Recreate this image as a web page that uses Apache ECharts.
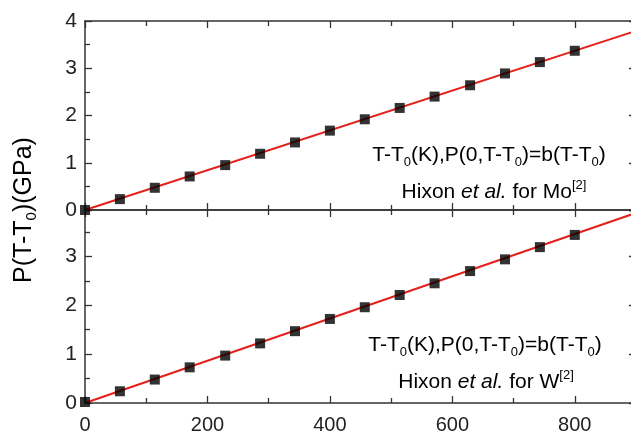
<!DOCTYPE html>
<html><head><meta charset="utf-8">
<script src="https://cdn.jsdelivr.net/npm/echarts@6/dist/echarts.min.js"></script>
<style>html,body{margin:0;padding:0;background:#fff}#c{width:631px;height:436px}</style>
</head><body><div id="c"></div>
<script>
// Temperature differences T-T0 (K)
var tempDiff = [0, 57, 114, 171, 229, 286, 343, 400, 457, 514, 571, 629, 686, 743, 800];
// Pressure P(T-T0) (GPa), Mo (top panel)
var pMo = [0, 0.23, 0.47, 0.71, 0.95, 1.19, 1.43, 1.68, 1.92, 2.16, 2.40, 2.64, 2.89, 3.13, 3.37];
// Pressure P(T-T0) (GPa), W (bottom panel)
var pW = [0.02, 0.24, 0.48, 0.73, 0.97, 1.22, 1.47, 1.72, 1.96, 2.21, 2.45, 2.70, 2.94, 3.19, 3.44];
// Linear fit lines (end points)
var fitX = [0, 900];
var fitMo = [0, 3.79];
var fitW = [0, 3.89];
// Tick labels
var xTickLabels = [0, 200, 400, 600, 800];
var yTickLabels = [0, 1, 2, 3, 4];

var FONT = 'Liberation Sans, Arial, sans-serif';
var AX = '#333';
function pairs(xs, ys){ return xs.map(function(x,i){ return [x, ys[i]]; }); }

function xAx(gi, pos, showLabel){
  return {
    type:'value', gridIndex:gi, position:pos, min:0, max:900, interval:200,
    axisLine:{show:true, onZero:false, lineStyle:{color:AX, width:1.5}},
    axisTick:{show:true, inside:true, length:7, lineStyle:{color:AX, width:1.3}},
    minorTick:{show:true, splitNumber:2, length:5, lineStyle:{color:AX, width:1.3}},
    splitLine:{show:false},
    axisLabel:{show:showLabel, color:'#222', fontSize:20, fontFamily:FONT, margin:12,
      formatter:function(v){ return xTickLabels.indexOf(v) >= 0 ? String(v) : ''; }}
  };
}
function yAx(gi, pos, max, showLabel, hideMax){
  return {
    type:'value', gridIndex:gi, position:pos, min:0, max:max, interval:1,
    axisLine:{show:true, onZero:false, lineStyle:{color:AX, width:1.5}},
    axisTick:{show:true, inside:true, length:7, lineStyle:{color:AX, width:1.3}},
    minorTick:{show:true, splitNumber:2, length:5, lineStyle:{color:AX, width:1.3}},
    splitLine:{show:false},
    axisLabel:{show:showLabel, color:'#222', fontSize:21, fontFamily:FONT, margin:8, showMaxLabel: !hideMax,
      formatter:function(v){ return yTickLabels.indexOf(v) >= 0 ? String(v) : ''; }}
  };
}

var chart = echarts.init(document.getElementById('c'), null, {renderer:'canvas'});
var sub = {fontSize:13, verticalAlign:'bottom', lineHeight:27, fontFamily:FONT, color:'#222'};
var sup = {fontSize:13, verticalAlign:'top', lineHeight:27, fontFamily:FONT, color:'#222'};
var normal = {fontSize:21, lineHeight:27, fontFamily:FONT, color:'#222'};
var ital = {fontSize:21, lineHeight:27, fontFamily:FONT, color:'#222', fontStyle:'italic'};

chart.setOption({
  animation:false,
  backgroundColor:'#fff',
  grid:[
    {left:85, top:21, width:551, height:189, outerBoundsMode:'none', containLabel:false},
    {left:85, top:210, width:551, height:193, outerBoundsMode:'none', containLabel:false}
  ],
  xAxis:[ xAx(0,'bottom',false), xAx(0,'top',false), xAx(1,'bottom',true), xAx(1,'top',false) ],
  yAxis:[ yAx(0,'left',4,true,false), yAx(0,'right',4,false,false), yAx(1,'left',3.95,true,true), yAx(1,'right',3.95,false,true) ],
  series:[
    {type:'line', xAxisIndex:0, yAxisIndex:0, data:pairs(fitX, fitMo), showSymbol:false, symbol:'none',
      lineStyle:{color:'#e3201b', width:2}, z:2},
    {type:'scatter', xAxisIndex:0, yAxisIndex:0, data:pairs(tempDiff, pMo), symbol:'rect', symbolSize:10,
      itemStyle:{color:'#000'}, z:3},
    {type:'line', xAxisIndex:2, yAxisIndex:2, data:pairs(fitX, fitW), showSymbol:false, symbol:'none',
      lineStyle:{color:'#e3201b', width:2}, z:2},
    {type:'scatter', xAxisIndex:2, yAxisIndex:2, data:pairs(tempDiff, pW), symbol:'rect', symbolSize:10,
      itemStyle:{color:'#000'}, z:3}
  ],
  graphic:[
    {type:'text', x:24, y:210, rotation:Math.PI/2, z:10,
      style:{text:'{n|P(T-T}{s|0}{n|)(GPa)}', align:'center', verticalAlign:'middle',
        rich:{n:{fontSize:25, lineHeight:30, fontFamily:FONT, color:'#222'},
              s:{fontSize:15, lineHeight:30, verticalAlign:'bottom', fontFamily:FONT, color:'#222'}}}},
    {type:'text', x:489, y:155, z:10,
      style:{text:'{n|T-T}{s|0}{n|(K),P(0,T-T}{s|0}{n|)=b(T-T}{s|0}{n|)}', align:'center', verticalAlign:'middle',
        rich:{n:normal, s:sub}}},
    {type:'text', x:494, y:192, z:10,
      style:{text:'{n|Hixon }{i|et al.}{n| for Mo}{p|[2]}', align:'center', verticalAlign:'middle',
        rich:{n:normal, i:ital, p:sup}}},
    {type:'text', x:485, y:345, z:10,
      style:{text:'{n|T-T}{s|0}{n|(K),P(0,T-T}{s|0}{n|)=b(T-T}{s|0}{n|)}', align:'center', verticalAlign:'middle',
        rich:{n:normal, s:sub}}},
    {type:'text', x:486, y:382, z:10,
      style:{text:'{n|Hixon }{i|et al.}{n| for W}{p|[2]}', align:'center', verticalAlign:'middle',
        rich:{n:normal, i:ital, p:sup}}}
  ]
});
</script></body></html>
